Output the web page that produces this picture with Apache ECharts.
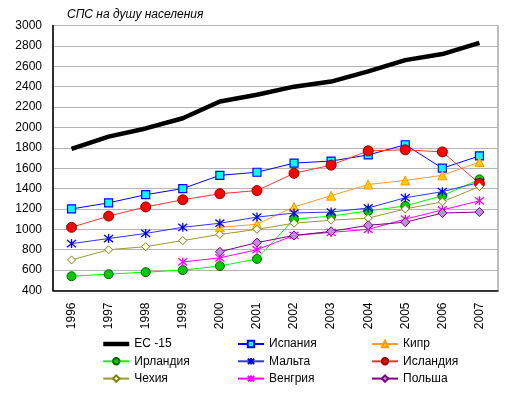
<!DOCTYPE html>
<html><head><meta charset="utf-8">
<script src="https://cdn.jsdelivr.net/npm/echarts@6/dist/echarts.min.js"></script>
<style>html,body{margin:0;padding:0;background:#fff}#c{width:515px;height:395px}</style>
</head><body><div id="c"></div>
<script>
const years = ['1996','1997','1998','1999','2000','2001','2002','2003','2004','2005','2006','2007'];
const yTicks = [400,600,800,1000,1200,1400,1600,1800,2000,2200,2400,2600,2800,3000];
const titleText = 'СПС на душу населения';
const eu15    = [1790,1910,1990,2090,2255,2320,2400,2450,2550,2660,2720,2830];
const spain   = [1200,1260,1340,1400,1530,1560,1650,1670,1730,1830,1600,1720];
const cyprus  = [null,null,null,null,1020,1050,1220,1330,1440,1480,1530,1660];
const ireland = [540,560,580,600,640,710,1100,1130,1180,1230,1330,1490];
const malta   = [860,910,960,1020,1060,1120,1160,1170,1210,1310,1370,1460];
const iceland = [1020,1130,1220,1290,1350,1380,1550,1630,1770,1780,1760,1450];
const czech   = [700,800,830,890,950,1000,1060,1090,1110,1200,1270,1420];
const hungary = [null,null,null,680,720,800,940,970,1000,1100,1190,1280];
const poland  = [null,null,null,null,780,870,940,980,1040,1070,1160,1170];
const names = ['ЕС -15','Испания','Кипр','Ирландия','Мальта','Исландия','Чехия','Венгрия','Польша'];

const FONT = "'Liberation Sans', Arial, sans-serif";
const star = 'path://M-4,-4L4,4M-4,4L4,-4M0,-5L0,5';
function s(name, data, line, lw, symbol, size, fill, border, bw){
  return {name, type:'line', data, connectNulls:false,
    symbol: symbol, symbolSize: size, showSymbol: symbol!=='none',
    lineStyle:{color:line, width:lw},
    itemStyle:{color:fill, borderColor:border, borderWidth:bw},
    emphasis:{disabled:true}, animation:false, z:2};
}
const series = [
  s(names[0], eu15, '#000000', 4.5, 'none', 0, '#000000', '#000000', 0),
  s(names[1], spain, '#0000FF', 1, 'rect', 8, '#00FFFF', '#0000FF', 1.2),
  s(names[2], cyprus, '#FF9933', 1, 'triangle', 9, '#FFCC00', '#FF9900', 1),
  s(names[3], ireland, '#00FF00', 1, 'circle', 9, '#00CC00', '#006600', 1),
  s(names[4], malta, '#3333FF', 1, star, 9, '#0000FF', '#0000FF', 1.3),
  s(names[5], iceland, '#FF3333', 1, 'circle', 10, '#FF0000', '#990000', 1),
  s(names[6], czech, '#999933', 1, 'diamond', 8, '#FFFFFF', '#808000', 1),
  s(names[7], hungary, '#FF00FF', 1, star, 9, '#FF00FF', '#FF00FF', 1.3),
  s(names[8], poland, '#800080', 1, 'diamond', 9, '#B890DD', '#800080', 1)
];
function legend(left, items){
  return {orient:'vertical', left:left, top:337, padding:0, itemWidth:26, itemHeight:8, itemGap:3.3,
    data:items, selectedMode:false,
    textStyle:{fontFamily:FONT, fontSize:12, color:'#000', lineHeight:14}};
}
const euItem = {name:names[0], itemStyle:{color:'rgba(0,0,0,0)', borderColor:'rgba(0,0,0,0)', borderWidth:0}, lineStyle:{width:4.5, color:'#000'}};
const chart = echarts.init(document.getElementById('c'), null, {renderer:'canvas'});
chart.setOption({
  backgroundColor:'#fff',
  animation:false,
  title:{text:titleText, left:67, top:9, padding:0, textStyle:{fontFamily:FONT, fontSize:12, fontStyle:'italic', fontWeight:'normal', color:'#000'}},
  legend:[legend(101,[euItem,names[3],names[6]]), legend(237,[names[1],names[4],names[7]]), legend(371,[names[2],names[5],names[8]])],
  grid:{left:53, right:17, top:25.5, bottom:104.5, show:true, borderColor:'#808080', borderWidth:1, backgroundColor:'#fff'},
  xAxis:{type:'category', data:years, boundaryGap:true,
    axisLine:{lineStyle:{color:'#000', width:1.5}}, axisTick:{show:false},
    axisLabel:{rotate:90, margin:12, fontFamily:FONT, fontSize:12, color:'#000'}},
  yAxis:{type:'value', min:yTicks[0], max:yTicks[yTicks.length-1], interval:200,
    axisLine:{show:true, lineStyle:{color:'#000', width:1.5}}, axisTick:{show:false},
    splitLine:{lineStyle:{color:'#B4B4B4', width:1}},
    axisLabel:{margin:11, fontFamily:FONT, fontSize:12, color:'#000', formatter: v => String(v)}},
  series: series
});
</script></body></html>
